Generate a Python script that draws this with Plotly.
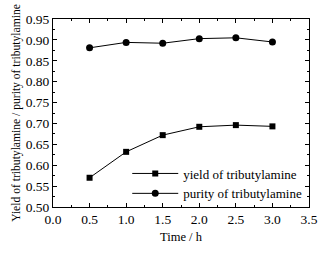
import plotly.graph_objects as go

time_h = [0.5, 1.0, 1.5, 2.0, 2.5, 3.0]
yield_vals = [0.570, 0.632, 0.672, 0.692, 0.696, 0.693]
purity_vals = [0.881, 0.894, 0.892, 0.903, 0.905, 0.895]

FONT = "Liberation Serif"

fig = go.Figure()
fig.add_trace(go.Scatter(x=time_h, y=yield_vals, mode="lines+markers",
                         name="yield of tributylamine",
                         line=dict(color="black", width=1),
                         marker=dict(symbol="square", size=6, color="black")))
fig.add_trace(go.Scatter(x=time_h, y=purity_vals, mode="lines+markers",
                         name="purity of tributylamine",
                         line=dict(color="black", width=1),
                         marker=dict(symbol="circle", size=7, color="black")))

axis_common = dict(showline=True, linecolor="black", linewidth=1, mirror="ticks",
                   ticks="inside", ticklen=4, tickcolor="black", showgrid=False,
                   zeroline=False, tickfont=dict(family=FONT, size=13.5, color="black"))

fig.update_layout(
    width=330, height=254,
    margin=dict(l=53, r=16, t=19, b=40),
    paper_bgcolor="white", plot_bgcolor="white",
    showlegend=True,
    legend=dict(x=0.29, y=0.125, xanchor="left", yanchor="middle",
                bgcolor="rgba(0,0,0,0)", font=dict(family=FONT, size=13, color="black"),
                itemwidth=46, tracegroupgap=2),
    xaxis=dict(range=[0, 3.5], dtick=0.5, tickformat=".1f",
               minor=dict(ticks="inside", ticklen=2, dtick=0.25, tickcolor="black"),
               title=dict(text="Time / h", font=dict(family=FONT, size=12.5, color="black"), standoff=6),
               **axis_common),
    yaxis=dict(range=[0.50, 0.95], dtick=0.05, tickformat=".2f",
               minor=dict(ticks="inside", ticklen=2, dtick=0.025, tickcolor="black"),
               title=dict(text="Yield of tributylamine / purity of tributylamine",
                          font=dict(family=FONT, size=11.6, color="black"), standoff=2),
               **axis_common),
)

fig.write_html("out.html", config={"displayModeBar": False},
               post_script="document.body.style.margin='0';")
